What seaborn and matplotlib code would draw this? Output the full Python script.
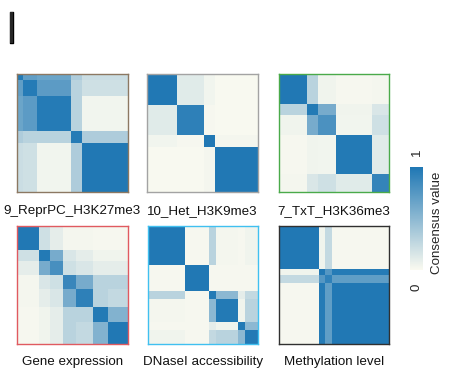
import numpy as np
import matplotlib
matplotlib.use("Agg")
import matplotlib.pyplot as plt
import matplotlib.patheffects as pe
import seaborn as sns
from matplotlib.colors import LinearSegmentedColormap

sns.set_style("white")
plt.rcParams["font.family"] = ["Liberation Sans", "DejaVu Sans"]

# Panel titles and frame colours
titles = ["9_ReprPC_H3K27me3", "10_Het_H3K9me3", "7_TxT_H3K36me3",
          "Gene expression", "DNaseI accessibility", "Methylation level"]
frame_colors = ["#8c7862", "#a3a3a3", "#4aaa4a", "#e05a60", "#40c0f0", "#303030"]

# Consensus clusters: samples per cluster and mean consensus between clusters
sizes_reprpc = [3, 8, 18, 6, 25]
cons_reprpc = [[0.98, 0.70, 0.65, 0.35, 0.22],
               [0.70, 0.97, 0.72, 0.30, 0.20],
               [0.65, 0.72, 0.97, 0.30, 0.04],
               [0.35, 0.30, 0.30, 0.97, 0.35],
               [0.22, 0.20, 0.04, 0.35, 0.99]]

sizes_het = [16, 15, 6, 23]
cons_het = [[0.99, 0.12, 0.04, 0.01],
            [0.12, 0.93, 0.02, 0.01],
            [0.04, 0.02, 0.99, 0.03],
            [0.01, 0.01, 0.03, 0.99]]

sizes_txt = [15, 6, 10, 20, 9]
cons_txt = [[0.99, 0.30, 0.05, 0.02, 0.03],
            [0.30, 0.98, 0.60, 0.05, 0.15],
            [0.05, 0.60, 0.80, 0.04, 0.20],
            [0.02, 0.05, 0.04, 0.98, 0.12],
            [0.03, 0.15, 0.20, 0.12, 0.90]]

sizes_expr = [12, 6, 7, 7, 9, 8, 11]
cons_expr = [[0.99, 0.20, 0.10, 0.03, 0.03, 0.02, 0.02],
             [0.20, 0.98, 0.60, 0.15, 0.10, 0.05, 0.05],
             [0.10, 0.60, 0.82, 0.20, 0.15, 0.10, 0.10],
             [0.03, 0.15, 0.20, 0.88, 0.60, 0.30, 0.30],
             [0.03, 0.10, 0.15, 0.60, 0.93, 0.30, 0.25],
             [0.02, 0.05, 0.10, 0.30, 0.30, 0.98, 0.55],
             [0.02, 0.05, 0.10, 0.30, 0.25, 0.55, 0.99]]

sizes_dnase = [20, 13, 4, 12, 4, 7]
cons_dnase = [[0.99, 0.02, 0.30, 0.03, 0.02, 0.05],
              [0.02, 0.99, 0.02, 0.02, 0.02, 0.02],
              [0.30, 0.02, 0.98, 0.50, 0.10, 0.25],
              [0.03, 0.02, 0.50, 0.98, 0.05, 0.30],
              [0.02, 0.02, 0.10, 0.05, 0.98, 0.50],
              [0.05, 0.02, 0.25, 0.30, 0.50, 0.98]]

sizes_meth = [22, 3, 4, 31]
cons_meth = [[0.99, 0.05, 0.25, 0.02],
             [0.05, 0.99, 0.75, 0.97],
             [0.25, 0.75, 0.92, 0.70],
             [0.02, 0.97, 0.70, 0.99]]

panels = [(sizes_reprpc, cons_reprpc), (sizes_het, cons_het),
          (sizes_txt, cons_txt), (sizes_expr, cons_expr),
          (sizes_dnase, cons_dnase), (sizes_meth, cons_meth)]


def consensus_matrix(sizes, cons):
    labels = np.repeat(np.arange(len(sizes)), sizes)
    return np.asarray(cons)[labels][:, labels]


cmap = LinearSegmentedColormap.from_list("consensus", ["#fafaf0", "#1f77b4"])

W, H = 449, 381
fig = plt.figure(figsize=(W / 100, H / 100), dpi=100)


def px_axes(x0, y0, x1, y1):
    return fig.add_axes([x0 / W, 1 - y1 / H, (x1 - x0) / W, (y1 - y0) / H])


boxes = [(17, 74, 128, 192), (147, 74, 258, 192), (279, 74, 389, 192),
         (17, 226, 128, 344), (148, 226, 258, 344), (279, 226, 389, 344)]
label_y = [211, 211, 211, 362, 362, 362]

for i, ((sizes, cons), box) in enumerate(zip(panels, boxes)):
    ax = px_axes(*box)
    mat = consensus_matrix(sizes, cons)
    sns.heatmap(mat, ax=ax, cmap=cmap, vmin=0, vmax=1, cbar=False,
                xticklabels=False, yticklabels=False)
    for sp in ax.spines.values():
        sp.set_visible(True)
        sp.set_color(frame_colors[i])
        sp.set_linewidth(1.0)
    cx = (box[0] + box[2]) / 2
    fig.text(cx / W, 1 - label_y[i] / H, titles[i], ha="center", va="center",
             fontsize=9.6, color="#111111")

# Colour bar
cax = px_axes(410, 167, 423, 270)
sm = plt.cm.ScalarMappable(cmap=cmap, norm=plt.Normalize(0, 1))
cb = fig.colorbar(sm, cax=cax)
cb.outline.set_visible(False)
cb.set_ticks([])
fig.text(416.5 / W, 1 - 152 / H, "1", rotation=90, ha="center", va="center", fontsize=9.6)
fig.text(416.5 / W, 1 - 287 / H, "0", rotation=90, ha="center", va="center", fontsize=9.6)
fig.text(437 / W, 1 - 223 / H, "Consensus value", rotation=90, ha="center",
         va="center", fontsize=9.6)

# Panel letter
fig.text(11.5 / W, 1 - 43 / H, "l", ha="center", va="baseline", fontsize=31,
         path_effects=[pe.withStroke(linewidth=1.0, foreground="black")])

fig.savefig("out.png", dpi=100)
